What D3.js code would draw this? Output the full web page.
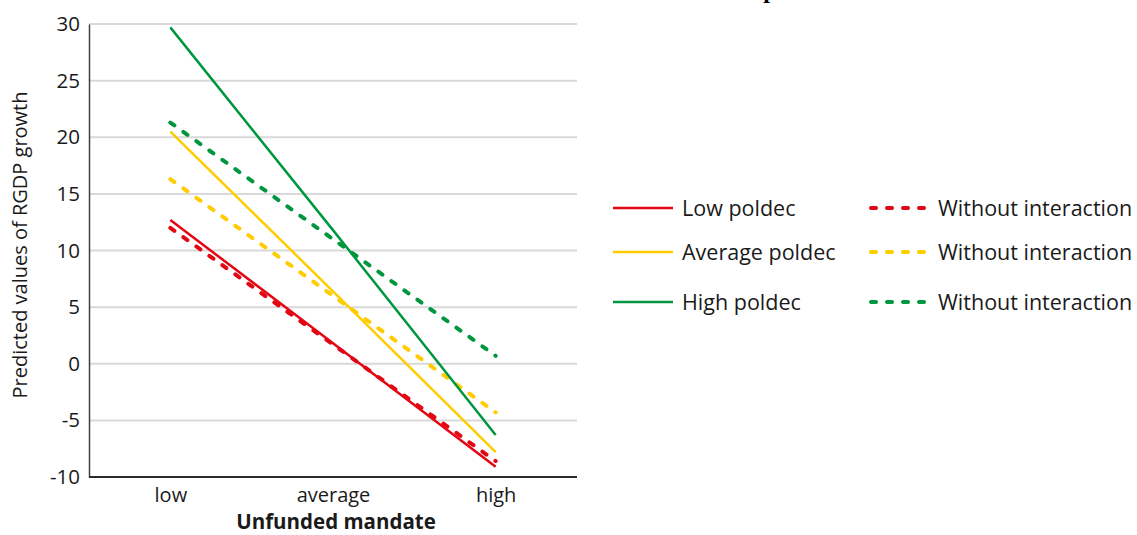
<!DOCTYPE html>
<html>
<head>
<meta charset="utf-8">
<script src="https://cdn.jsdelivr.net/npm/d3@7"></script>
<style>
  body { margin: 0; background: #fff; }
  text { font-family: "Open Sans", "Noto Sans", sans-serif; fill: #1a1a1a; }
</style>
</head>
<body>
<div class="chart"></div>
<script>
const Margin = { top: 24, right: 560, bottom: 58, left: 89 };
const Width = 1137 - Margin.left - Margin.right;
const Height = 535 - Margin.top - Margin.bottom;

// categories + series (low / average / high)
const categories = ["low", "average", "high"];
const yTicks = [-10, -5, 0, 5, 10, 15, 20, 25, 30];
const seriesNames = ["Low poldec", "Average poldec", "High poldec"];
const seriesColors = ["#e30613", "#ffcc00", "#009640"];
const withInteraction = [
  [12.7, 1.8, -9.1],
  [20.5, 6.4, -7.8],
  [29.7, 11.8, -6.3]
];
const withoutInteraction = [
  [12.0, 1.7, -8.6],
  [16.3, 6.0, -4.3],
  [21.3, 11.0, 0.7]
];

var svg = d3.select(".chart").append("svg")
    .attr("width", 1137)
    .attr("height", 535);

// title, cut off at the top edge in the original
svg.append("text")
    .attr("x", 770)
    .attr("y", -2)
    .attr("text-anchor", "middle")
    .style("font-family", "'Liberation Serif', serif")
    .style("font-weight", "bold")
    .style("font-size", "24px")
    .style("fill", "#000")
    .text("p");

var g = svg.append("g")
    .attr("transform", "translate(" + Margin.left + "," + Margin.top + ")");

const x = d3.scalePoint().domain(categories).range([0, Width]).padding(0.5);
const y = d3.scaleLinear().domain([-10, 30]).range([Height, 0]);

// gridlines
g.selectAll(".grid")
  .data(yTicks.filter(d => d > -10))
  .enter().append("line")
    .attr("x1", 0)
    .attr("x2", Width)
    .attr("y1", d => y(d))
    .attr("y2", d => y(d))
    .style("stroke", "#d9d9d9")
    .style("stroke-width", 2);

// y axis
var yAxis = g.append("g")
    .call(d3.axisLeft(y).tickValues(yTicks).tickSize(0).tickPadding(9)
      .tickFormat(d => String(d)));
yAxis.select(".domain").style("stroke", "#404040").style("stroke-width", 1.5);
yAxis.selectAll("text")
    .style("font-size", "20.5px")
    .style("font-family", "'Open Sans', sans-serif")
    .style("fill", "#1a1a1a");

// x axis
var xAxis = g.append("g")
    .attr("transform", "translate(0," + Height + ")")
    .call(d3.axisBottom(x).tickSize(0).tickPadding(11));
xAxis.select(".domain").attr("d", "M0,0H" + Width).style("stroke", "#2a2a2a").style("stroke-width", 2);
xAxis.selectAll("text")
    .style("font-size", "20px")
    .style("font-family", "'Open Sans', sans-serif")
    .style("fill", "#1a1a1a");

const line = d3.line()
    .x((d, i) => x(categories[i]))
    .y(d => y(d));

// dashed lines first (without interaction)
withoutInteraction.forEach(function(s, i) {
  g.append("path")
    .datum(s)
    .attr("d", line)
    .style("fill", "none")
    .style("stroke", seriesColors[i])
    .style("stroke-width", 4)
    .style("stroke-linecap", "round")
    .style("stroke-dasharray", "5,11");
});

withInteraction.forEach(function(s, i) {
  g.append("path")
    .datum(s)
    .attr("d", line)
    .style("fill", "none")
    .style("stroke", seriesColors[i])
    .style("stroke-width", 2.5);
});

// axis labels
svg.append("text")
    .attr("transform", "translate(27," + 245 + ") rotate(-90)")
    .attr("text-anchor", "middle")
    .style("font-size", "20px")
    .text("Predicted values of RGDP growth");

svg.append("text")
    .attr("x", 336)
    .attr("y", 529)
    .attr("text-anchor", "middle")
    .style("font-size", "20.5px")
    .style("font-weight", "bold")
    .text("Unfunded mandate");

// legend
const legendY = [208, 252, 302];
var legend = svg.append("g");
seriesNames.forEach(function(name, i) {
  legend.append("line")
    .attr("x1", 613).attr("x2", 673)
    .attr("y1", legendY[i]).attr("y2", legendY[i])
    .style("stroke", seriesColors[i])
    .style("stroke-width", 2.5);
  legend.append("text")
    .attr("x", 682)
    .attr("y", legendY[i])
    .attr("dy", "0.35em")
    .style("font-size", "21.5px")
    .text(name);
  legend.append("line")
    .attr("x1", 871).attr("x2", 927)
    .attr("y1", legendY[i]).attr("y2", legendY[i])
    .style("stroke", seriesColors[i])
    .style("stroke-width", 4)
    .style("stroke-linecap", "round")
    .style("stroke-dasharray", "5,11");
  legend.append("text")
    .attr("x", 938)
    .attr("y", legendY[i])
    .attr("dy", "0.35em")
    .style("font-size", "21.5px")
    .text("Without interaction");
});
</script>
</body>
</html>
